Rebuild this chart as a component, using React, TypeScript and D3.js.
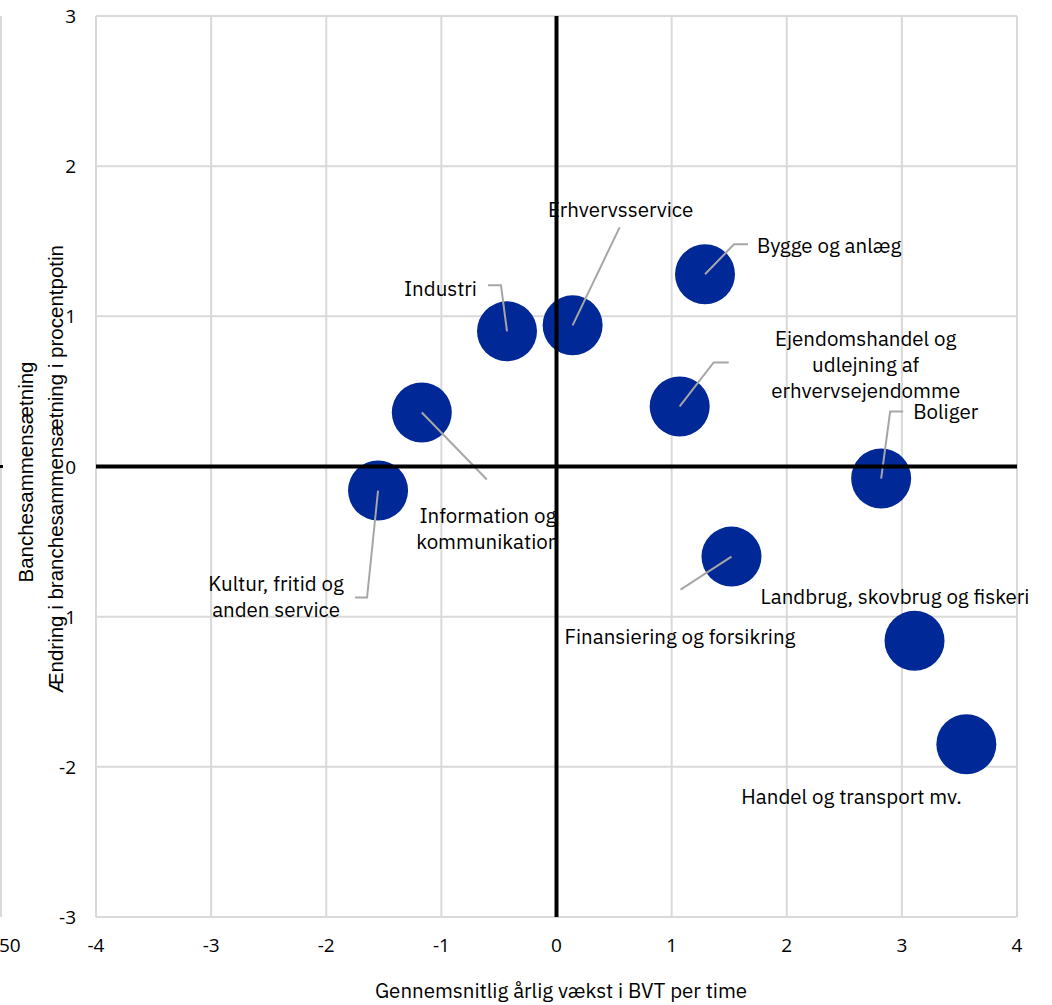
import React from "react";
import * as d3 from "d3";

const categories = [
  "Kultur, fritid og anden service",
  "Information og kommunikation",
  "Industri",
  "Erhvervsservice",
  "Bygge og anlæg",
  "Ejendomshandel og udlejning af erhvervsejendomme",
  "Boliger",
  "Finansiering og forsikring",
  "Landbrug, skovbrug og fiskeri",
  "Handel og transport mv.",
];
const growthValues = [-1.55, -1.17, -0.43, 0.14, 1.29, 1.07, 2.82, 1.52, 3.11, 3.56];
const compositionValues = [-0.16, 0.36, 0.9, 0.94, 1.28, 0.4, -0.08, -0.6, -1.16, -1.85];
const xTicks = [-4, -3, -2, -1, 0, 1, 2, 3, 4];
const yTicks = [-3, -2, -1, 0, 1, 2, 3];
const xTitle = "Gennemsnitlig årlig vækst i BVT per time";
const yTitle1 = "Banchesammensætning";
const yTitle2 = "Ændring i branchesammensætning i procentpotin";

// label layout (pixel offsets of the text block centre relative to bubble centre)
type LabelLayout = {
  lines: string[];
  dx: number;
  dy: number;
  anchor: "start" | "middle" | "end";
  leader: [number, number][];
};
const labelLayout: LabelLayout[] = [
  { lines: ["Kultur, fritid og", "anden service"], dx: -102, dy: 106, anchor: "middle", leader: [[0, 0], [-11, 107], [-23, 107]] },
  { lines: ["Information og", "kommunikation"], dx: 66, dy: 116.5, anchor: "middle", leader: [[0, 0], [65, 67]] },
  { lines: ["Industri"], dx: -30, dy: -42.5, anchor: "end", leader: [[0, 0], [-6, -46], [-19, -46]] },
  { lines: ["Erhvervsservice"], dx: 48, dy: -115, anchor: "middle", leader: [[0, 0], [47, -98]] },
  { lines: ["Bygge og anlæg"], dx: 52, dy: -28, anchor: "start", leader: [[0, 0], [29, -30], [43, -30]] },
  { lines: ["Ejendomshandel og", "udlejning af", "erhvervsejendomme"], dx: 186, dy: -41.5, anchor: "middle", leader: [[0, 0], [34, -44], [49, -44]] },
  { lines: ["Boliger"], dx: 32, dy: -66.5, anchor: "start", leader: [[0, 0], [9, -67], [22, -67]] },
  { lines: ["Finansiering og forsikring"], dx: -167, dy: 80.5, anchor: "start", leader: [[0, 0], [-51, 33]] },
  { lines: ["Landbrug, skovbrug og fiskeri"], dx: -154, dy: -43.5, anchor: "start", leader: [] },
  { lines: ["Handel og transport mv."], dx: -225, dy: 52.5, anchor: "start", leader: [] },
];

const W = 1052;
const H = 1005;
const plot = { left: 96, right: 1017, top: 16, bottom: 917 };
const labelFont = "'IBM Plex Sans', 'Noto Sans', 'Open Sans', sans-serif";
const tickFont = "'Open Sans', 'Noto Sans', sans-serif";
const labelSize = 20.5;

export default function App() {
  const x = d3.scaleLinear().domain([-4, 4]).range([plot.left, plot.right]);
  const y = d3.scaleLinear().domain([-3, 3]).range([plot.bottom, plot.top]);
  const line = d3.line();
  const lineH = 26;

  return (
    <svg
      width={W}
      height={H}
      style={{ position: "absolute", left: 0, top: 0, background: "#fff" }}
    >
      {/* partial elements at left edge */}
      <line x1={1} x2={1} y1={plot.top} y2={plot.bottom} stroke="#d9d9d9" strokeWidth={2} />
      <line x1={0} x2={3} y1={y(0)} y2={y(0)} stroke="#000" strokeWidth={3} />
      <text x={-1} y={952} fontFamily={tickFont} fontSize={19} fill="#000">50</text>

      {/* gridlines */}
      {xTicks.map((t) => (
        <line key={"gx" + t} x1={x(t)} x2={x(t)} y1={plot.top} y2={plot.bottom} stroke="#d9d9d9" strokeWidth={2} />
      ))}
      {yTicks.map((t) => (
        <line key={"gy" + t} x1={plot.left} x2={plot.right} y1={y(t)} y2={y(t)} stroke="#d9d9d9" strokeWidth={2} />
      ))}

      {/* tick labels */}
      {xTicks.map((t) => (
        <text key={"tx" + t} x={x(t)} y={952} textAnchor="middle" fontFamily={tickFont} fontSize={19} fill="#000">
          {t}
        </text>
      ))}
      {yTicks.map((t) => (
        <text key={"ty" + t} x={76} y={y(t) + 7} textAnchor="end" fontFamily={tickFont} fontSize={19} fill="#000">
          {t}
        </text>
      ))}

      {/* bubbles */}
      {categories.map((c, i) => (
        <circle key={"b" + i} cx={x(growthValues[i])} cy={y(compositionValues[i])} r={30} fill="#002896" />
      ))}

      {/* leader lines */}
      {categories.map((c, i) => {
        const L = labelLayout[i];
        if (!L.leader.length) return null;
        const cx = x(growthValues[i]);
        const cy = y(compositionValues[i]);
        const pts = L.leader.map(([dx, dy]) => [cx + dx, cy + dy] as [number, number]);
        return <path key={"l" + i} d={line(pts) || ""} fill="none" stroke="#a6a6a6" strokeWidth={2} />;
      })}

      {/* labels */}
      {categories.map((c, i) => {
        const L = labelLayout[i];
        const cx = x(growthValues[i]);
        const cy = y(compositionValues[i]);
        const n = L.lines.length;
        const y0 = cy + L.dy - ((n - 1) * lineH) / 2;
        return (
          <text key={"t" + i} textAnchor={L.anchor} fontFamily={labelFont} fontSize={labelSize} fill="#000">
            {L.lines.map((s, k) => (
              <tspan key={k} x={cx + L.dx} y={y0 + k * lineH + 7}>
                {s}
              </tspan>
            ))}
          </text>
        );
      })}

      {/* zero axes */}
      <line x1={plot.left} x2={plot.right} y1={y(0)} y2={y(0)} stroke="#000" strokeWidth={4} />
      <line x1={x(0)} x2={x(0)} y1={plot.top} y2={plot.bottom} stroke="#000" strokeWidth={4} />

      {/* axis titles */}
      <text x={561} y={998} textAnchor="middle" fontFamily={labelFont} fontSize={labelSize} fill="#000">
        {xTitle}
      </text>
      <text
        transform={`translate(33, 472) rotate(-90)`}
        textAnchor="middle"
        fontFamily="'Liberation Sans Narrow', 'Liberation Sans', sans-serif"
        fontSize={20}
        textLength={221}
        lengthAdjust="spacingAndGlyphs"
        fill="#000"
      >
        {yTitle1}
      </text>
      <text
        transform={`translate(63, 469) rotate(-90)`}
        textAnchor="middle"
        fontFamily="'Liberation Sans Narrow', 'Liberation Sans', sans-serif"
        fontSize={20}
        textLength={448}
        lengthAdjust="spacingAndGlyphs"
        fill="#000"
      >
        {yTitle2}
      </text>
    </svg>
  );
}
